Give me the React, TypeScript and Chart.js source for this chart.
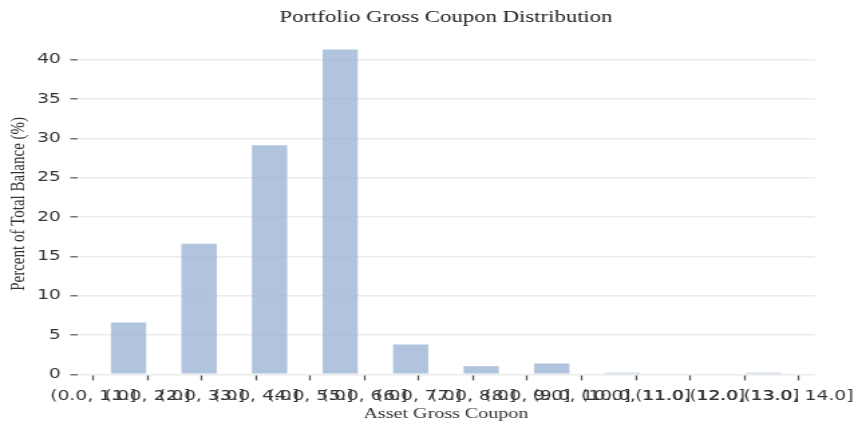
import React, { useEffect, useRef } from 'react';
import { Chart, registerables } from 'chart.js';

Chart.register(...registerables);

// ---- data ----
const tickLabels = [
  '(0.0, 1.0]', '(1.0, 2.0]', '(2.0, 3.0]', '(3.0, 4.0]', '(4.0, 5.0]',
  '(5.0, 6.0]', '(6.0, 7.0]', '(7.0, 8.0]', '(8.0, 9.0]', '(9.0, 10.0]',
  '(10.0, 11.0]', '(11.0, 12.0]', '(12.0, 13.0]', '(13.0, 14.0]',
];
const barValues = [6.6, 16.6, 29.15, 41.3, 3.8, 1.05, 1.4, 0.2, 0, 0.2];

const chartTitle = 'Portfolio Gross Coupon Distribution';
const xTitle = 'Asset Gross Coupon';
const yTitle = 'Percent of Total Balance (%)';

// the reference image is horizontally stretched
const INNER_W = 638;
const STRETCH = 854 / INNER_W;

export default function App() {
  const ref = useRef<HTMLCanvasElement>(null);

  useEffect(() => {
    if (!ref.current) return;
    const span = tickLabels.length - 1;
    const binWidth = span / barValues.length;
    const chart = new Chart(ref.current, {
      type: 'bar',
      data: {
        datasets: [
          {
            data: barValues.map((v, i) => ({ x: (i + 0.5) * binWidth, y: v })),
            backgroundColor: 'rgba(156,181,214,0.8)',
            borderWidth: 0,
            barPercentage: 0.65,
            categoryPercentage: 1,
          },
        ],
      },
      options: {
        animation: false,
        responsive: true,
        maintainAspectRatio: false,
        layout: { padding: { left: 0, right: 29.2, top: 0, bottom: 0 } },
        plugins: {
          legend: { display: false },
          tooltip: { enabled: false },
          title: {
            display: true,
            text: chartTitle,
            fullSize: false,
            color: '#222',
            font: { family: '"Liberation Serif", "Times New Roman", serif', size: 17, weight: 'normal' },
            padding: { top: 7, bottom: 6 },
          },
        },
        scales: {
          x: {
            type: 'linear',
            min: -0.3,
            max: span + 0.3,
            offset: false,
            afterBuildTicks: (scale: any) => {
              scale.ticks = tickLabels.map((_, i) => ({ value: i }));
            },
            afterFit: (scale: any) => {
              scale.height = 425 - 374.4;
              scale.paddingLeft = 0;
              scale.paddingRight = 0;
            },
            border: { display: false },
            grid: {
              offset: false,
              drawOnChartArea: false,
              drawTicks: true,
              tickLength: 6,
              tickColor: '#555',
              tickWidth: 1.3,
              color: '#555',
            },
            ticks: {
              autoSkip: false,
              maxRotation: 0,
              minRotation: 0,
              padding: 8,
              color: '#333',
              font: { family: '"DejaVu Sans", sans-serif', size: 14 },
              callback: (_v: any, i: number) => tickLabels[i],
            },
            title: {
              display: true,
              text: xTitle,
              color: '#333',
              font: { family: '"Liberation Serif", "Times New Roman", serif', size: 15 },
              padding: { top: 0, bottom: 2 },
            },
          },
          y: {
            type: 'linear',
            min: 0,
            max: 43.36,
            afterFit: (scale: any) => {
              scale.width = 57.5;
              scale.paddingTop = 0;
              scale.paddingBottom = 0;
            },
            border: { display: false },
            grid: {
              color: '#ebebeb',
              lineWidth: 1.6,
              drawTicks: true,
              tickLength: 5,
              tickColor: '#555',
              tickWidth: 1.2,
            },
            ticks: {
              stepSize: 5,
              includeBounds: false,
              padding: 7,
              color: '#333',
              font: { family: '"DejaVu Sans", sans-serif', size: 14 },
            },
            title: {
              display: true,
              text: yTitle,
              color: '#333',
              font: { family: '"Liberation Serif", "Times New Roman", serif', size: 15 },
              padding: { top: 5, bottom: 0 },
            },
          },
        },
      } as any,
    });
    return () => chart.destroy();
  }, []);

  return (
    <div style={{ position: 'fixed', left: 0, top: 0, width: 854, height: 425, overflow: 'hidden', background: '#fff' }}>
      <div
        style={{
          position: 'absolute',
          left: 0,
          top: 0,
          width: INNER_W,
          height: 425,
          transform: `scaleX(${STRETCH})`,
          transformOrigin: '0 0',
        }}
      >
        <canvas ref={ref} />
      </div>
    </div>
  );
}
